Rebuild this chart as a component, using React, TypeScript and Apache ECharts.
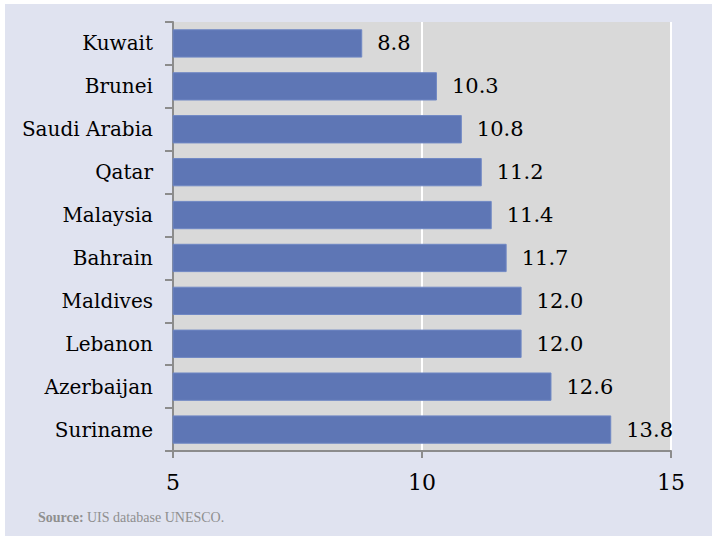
import React, { useEffect, useRef } from "react";
import * as echarts from "echarts";

const countries = ["Kuwait", "Brunei", "Saudi Arabia", "Qatar", "Malaysia", "Bahrain", "Maldives", "Lebanon", "Azerbaijan", "Suriname"];
const values = [8.8, 10.3, 10.8, 11.2, 11.4, 11.7, 12.0, 12.0, 12.6, 13.8];
const xTicks = [5, 10, 15];

export default function App() {
  const ref = useRef<HTMLDivElement>(null);
  useEffect(() => {
    if (!ref.current) return;
    const chart = echarts.init(ref.current, null, { renderer: "svg" });
    const font = "'DejaVu Serif', serif";
    const font2 = "'Liberation Serif', serif";
    chart.setOption({
      animation: false,
      backgroundColor: "transparent",
      grid: { left: 173, right: 41, top: 22, bottom: 85, show: true, backgroundColor: "#d9d9d9", borderWidth: 0 },
      xAxis: {
        type: "value",
        min: xTicks[0],
        max: xTicks[xTicks.length - 1],
        interval: 5,
        axisLine: { show: true, lineStyle: { color: "#8c8c8c", width: 2 } },
        axisTick: { show: true, length: 7, lineStyle: { color: "#8c8c8c", width: 2 } },
        axisLabel: { color: "#000", fontFamily: font, fontSize: 22, margin: 20 },
        splitLine: { show: true, lineStyle: { color: "#ffffff", width: 2 } },
      },
      yAxis: {
        type: "category",
        data: countries,
        inverse: true,
        axisLine: { show: true, lineStyle: { color: "#8c8c8c", width: 2 } },
        axisTick: { show: true, length: 8, lineStyle: { color: "#8c8c8c", width: 2 } },
        axisLabel: { color: "#000", fontFamily: font, fontSize: 20, margin: 20 },
        splitLine: { show: false },
      },
      series: [
        {
          type: "bar",
          data: values,
          barCategoryGap: "34%",
          itemStyle: { color: "#5e76b5", borderColor: "#7088c4", borderWidth: 1 },
          label: {
            show: true,
            position: "right",
            distance: 15,
            color: "#000",
            fontFamily: font,
            fontSize: 21,
            formatter: (p: any) => Number(p.value).toFixed(1),
          },
        },
      ],
      graphic: [
        {
          type: "text",
          left: 38,
          top: 510,
          style: {
            rich: {
              b: { fontWeight: "bold", fill: "#8f8f8f", fontFamily: font2, fontSize: 14 },
              n: { fill: "#8f8f8f", fontFamily: font2, fontSize: 14 },
            },
            text: "{b|Source:} {n|UIS database UNESCO.}",
          },
        },
      ],
    });
    return () => chart.dispose();
  }, []);
  return (
    <div style={{ position: "fixed", left: 0, top: 0, width: 712, height: 536, background: "#fff" }}>
      <div style={{ position: "absolute", left: 5, top: 4, width: 707, height: 532, background: "#e0e3f0" }} />
      <div ref={ref} style={{ position: "absolute", left: 0, top: 0, width: 712, height: 536 }} />
    </div>
  );
}
